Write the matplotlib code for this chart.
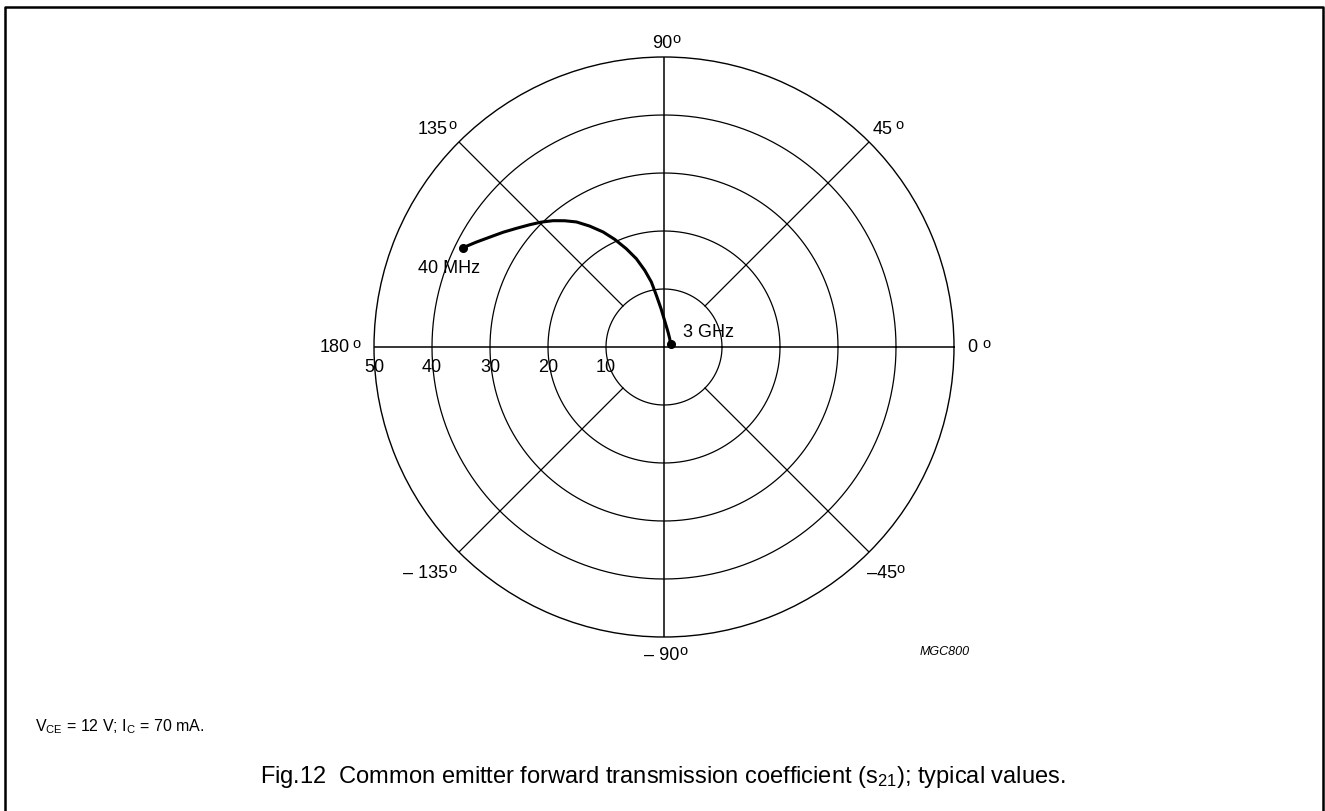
import numpy as np
import matplotlib
matplotlib.use("Agg")
import matplotlib.pyplot as plt
from matplotlib.lines import Line2D

plt.rcParams['font.family'] = ['Liberation Sans', 'DejaVu Sans']
plt.rcParams['mathtext.fontset'] = 'custom'
plt.rcParams['mathtext.rm'] = 'Liberation Sans'
plt.rcParams['mathtext.it'] = 'Liberation Sans:italic'
plt.rcParams['mathtext.bf'] = 'Liberation Sans:bold'

# s21: angle (deg) and magnitude, 40 MHz -> 3 GHz
s21_angle = [153.7, 150.8, 147.8, 144.5, 141.2, 137.7, 134.5, 131.3, 128.2,
             125.0, 121.6, 117.9, 114.6, 111.0, 107.4, 104.1, 101.0, 98.4,
             94.4, 87.6, 74.9, 55.5, 21.4]
s21_mag = [38.65, 37.07, 35.53, 34.07, 32.65, 31.32, 30.19, 28.99, 27.70,
           26.32, 24.48, 22.44, 20.41, 18.15, 15.95, 13.63, 11.41, 9.0,
           6.62, 4.31, 2.67, 1.74, 1.24]

rings = [10, 20, 30, 40, 50]
ring_labels = ["10", "20", "30", "40", "50"]
spokes = [0, 45, 90, 135, 180, 225, 270, 315]

# angle labels: text, anchor (angle, radius) at right end of the digits, gap to the degree mark
angle_text = ["0", "45", "90", "135", "180", "\u2013 135", "\u2013 90", "\u201345"]
angle_pos = [(0.0, 54.1), (43.7, 54.6), (88.4, 52.5), (134.7, 53.0),
             (180.0, 54.2), (226.3, 53.8), (272.9, 53.0), (315.9, 55.9)]
deg_gap = [5, 2, 0, 1, 3, 0, 0, 0]

fig = plt.figure(figsize=(13.25, 8.12), dpi=100)
ax = fig.add_axes([374 / 1325, 1 - 638 / 812, 580 / 1325, 580 / 812], projection='polar')
ax.set_ylim(0, 50)
ax.grid(False)
ax.set_xticks([])
ax.set_yticks([])
ax.spines['polar'].set_linewidth(1.0)

th = np.linspace(0, 2 * np.pi, 721)
for r in rings[:-1]:
    ax.plot(th, np.full_like(th, r), color='black', lw=0.9)

for a in spokes:
    t = np.deg2rad(a)
    if a % 90 == 0:
        ax.plot([t, t], [0, 50], color='black', lw=1.1)
    else:
        ax.plot([t, t], [10, 50], color='black', lw=0.9)

for lab, (a, r), g in zip(angle_text, angle_pos, deg_gap):
    ax.text(np.deg2rad(a), r, lab, fontsize=13, ha='right', va='center')
    ax.annotate("o", (np.deg2rad(a), r), xytext=(g * 0.72, 0.3), textcoords='offset points',
                fontsize=10.5, ha='left', va='baseline', annotation_clip=False)

for r, lab in zip(rings, ring_labels):
    ax.annotate(lab, (np.pi, r), xytext=(0, -14), textcoords='offset points',
                ha='center', va='center', fontsize=13)

t = np.deg2rad(s21_angle)
ax.plot(t, s21_mag, color='black', lw=2.2, solid_capstyle='round', solid_joinstyle='round')
ax.plot([t[0], t[-1]], [s21_mag[0], s21_mag[-1]], 'o', color='black', ms=5.5)

ax.annotate("40 MHz", (t[0], s21_mag[0]), xytext=(-10, -14), textcoords='offset points',
            ha='center', va='center', fontsize=13)
ax.annotate("3 GHz", (t[-1], s21_mag[-1]), xytext=(27, 9), textcoords='offset points',
            ha='center', va='center', fontsize=13)

fig.text(945 / 1325, 1 - 652 / 812, "MGC800", fontsize=9, style='italic',
         ha='center', va='center')
fig.text(35 / 1325, 1 - 727 / 812, "${\\rm V}_{\\rm CE}$ = 12 V; ${\\rm I}_{\\rm C}$ = 70 mA.",
         fontsize=11.5, ha='left', va='center')
fig.text(663 / 1325, 1 - 777 / 812,
         "Fig.12  Common emitter forward transmission coefficient (${\\rm s}_{21}$); typical values.",
         fontsize=17, ha='center', va='center')

# page frame (open at the bottom)
fx = [5 / 1325, 5 / 1325, 1323 / 1325, 1323 / 1325]
fy = [0, 1 - 7.5 / 812, 1 - 7.5 / 812, 0]
fig.add_artist(Line2D(fx, fy, color='black', lw=1.8, transform=fig.transFigure))

fig.savefig("out.png", dpi=100)
